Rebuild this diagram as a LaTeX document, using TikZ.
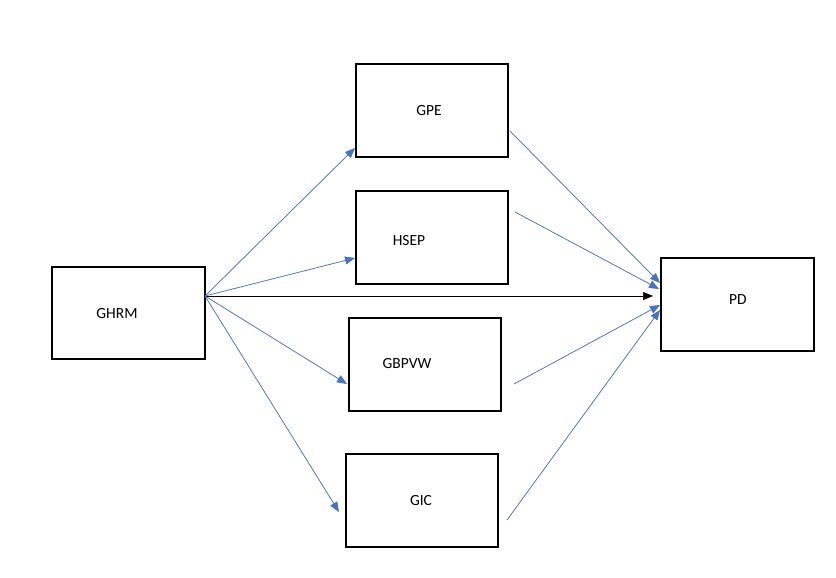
\documentclass[tikz,border=0pt]{standalone}
\usepackage{fontspec}
\setmainfont{Carlito}
\usetikzlibrary{arrows.meta}
\begin{document}
\begin{tikzpicture}[x=1pt,y=-1pt,
 box/.style={draw,line width=1.2pt,fill=white},
 lbl/.style={font=\fontsize{15.5}{18}\selectfont},
 ba/.style={draw={rgb,255:red,68;green,114;blue,196},line width=0.7pt,-{Triangle[length=10pt,width=8pt]},fill={rgb,255:red,68;green,114;blue,196}},
 ka/.style={draw=black,line width=0.7pt,-{Triangle[length=10pt,width=8pt]}}]
\useasboundingbox (0,0) rectangle (836,578);
\draw[box] (356,64) rectangle (508,157);
\draw[box] (356,191) rectangle (508,284);
\draw[box] (52,267) rectangle (205,359);
\draw[box] (661,258) rectangle (814,351);
\draw[box] (349,318) rectangle (501,411);
\draw[box] (346,454) rectangle (498,547);
\node[lbl] (gpe) at (429,111) {GPE};
\node[lbl] (hsep) at (409,241) {HSEP};
\node[lbl] (ghrm) at (117,314) {GHRM};
\node[lbl] (pd) at (738,300) {PD};
\node[lbl] (gbpvw) at (407,364) {GBPVW};
\node[lbl] (gic) at (421,501) {GIC};
\coordinate (s) at (205,296);
\coordinate (gpeIn) at (355,148);
\coordinate (hsepIn) at (355,258);
\coordinate (pdIn) at (653,296);
\coordinate (gbIn) at (347,384);
\coordinate (gicIn) at (339,512);
\coordinate (gpeOut) at (510,131);
\coordinate (hsepOut) at (515,212);
\coordinate (gbOut) at (514,384);
\coordinate (gicOut) at (507,520);
\coordinate (p1) at (660,283);
\coordinate (p2) at (659,289);
\coordinate (p3) at (660,305);
\coordinate (p4) at (660,310);
\draw[ba] (s) -- (gpeIn);
\draw[ba] (s) -- (hsepIn);
\draw[ka] (s) -- (pdIn);
\draw[ba] (s) -- (gbIn);
\draw[ba] (s) -- (gicIn);
\draw[ba] (gpeOut) -- (p1);
\draw[ba] (hsepOut) -- (p2);
\draw[ba] (gbOut) -- (p3);
\draw[ba] (gicOut) -- (p4);
\end{tikzpicture}
\end{document}
